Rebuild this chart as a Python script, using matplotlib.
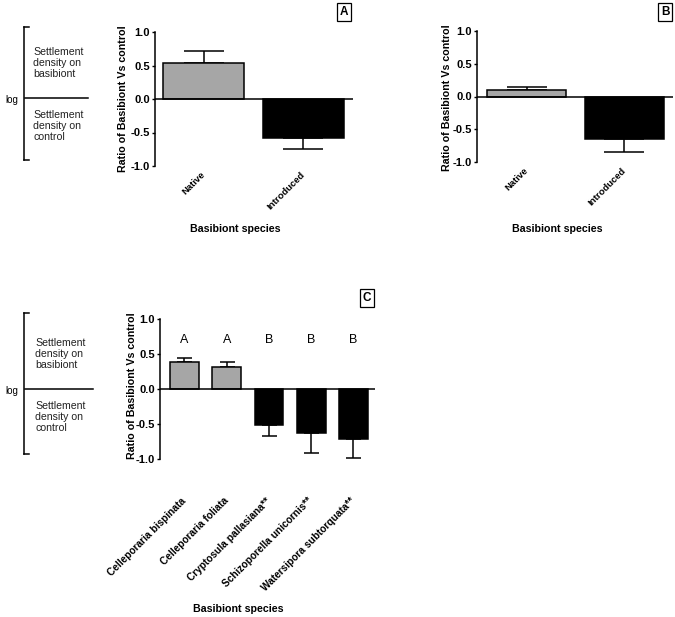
import matplotlib
matplotlib.use('Agg')
import matplotlib.pyplot as plt
from matplotlib.lines import Line2D

plt.rcParams['font.family'] = ['Liberation Sans', 'DejaVu Sans']

# Panel A / B: native vs introduced
groups = ['Native', 'Introduced']
a_means = [0.54, -0.58]
a_err = [0.17, 0.16]
b_means = [0.10, -0.65]
b_err = [0.04, 0.20]

# Panel C: per species
species = ['Celleporaria bispinata', 'Celleporaria foliata', 'Cryptosula pallasiana**',
           'Schizoporella unicornis**', 'Watersipora subtorquata**']
c_means = [0.38, 0.31, -0.52, -0.63, -0.71]
c_err = [0.07, 0.07, 0.15, 0.29, 0.27]
c_letters = ['A', 'A', 'B', 'B', 'B']
c_native = [True, True, False, False, False]

W, H = 675, 617
GREY = '#a6a6a6'


def fx(x):
    return x / W


def fy(y):
    return 1 - y / H


def make_axes(fig, left, right, top, bottom):
    return fig.add_axes([fx(left), fy(bottom), (right - left) / W, (bottom - top) / H])


def draw_bars(ax, labels, means, errs, colors, width, capsize, xlim, label_pad, xfs):
    xs = list(range(len(labels)))
    for x, m, e, c in zip(xs, means, errs, colors):
        yerr = [[0], [e]] if m > 0 else [[e], [0]]
        ax.errorbar([x], [m], yerr=yerr, fmt='none', ecolor='black',
                    elinewidth=1.1, capsize=capsize, capthick=1.1, zorder=1)
        ax.bar(x, m, width=width, color=c, edgecolor='black', linewidth=1.1, zorder=2)
    ax.axhline(0, color='black', lw=1.1, zorder=3)
    ax.set_xlim(*xlim)
    ax.set_ylim(-1.0, 1.0)
    ax.set_yticks([-1.0, -0.5, 0.0, 0.5, 1.0])
    ax.set_yticklabels(['-1.0', '-0.5', '0.0', '0.5', '1.0'], fontsize=8, fontweight='bold')
    ax.tick_params(axis='y', length=2.5, width=1.0, pad=1)
    ax.set_xticks(xs)
    ax.set_xticklabels(labels, rotation=45, ha='right', va='center',
                       rotation_mode='anchor', fontsize=xfs, fontweight='bold')
    ax.tick_params(axis='x', length=0, pad=label_pad)
    for s in ['top', 'right', 'bottom']:
        ax.spines[s].set_visible(False)
    ax.spines['left'].set_linewidth(1.1)
    ax.patch.set_alpha(0)


def log_key(fig, top, mid, bottom, x_text, line_right):
    fig.text(fx(5), fy(mid + 2), 'log', fontsize=7, ha='left', va='center')
    xb = 24
    fig.add_artist(Line2D([fx(xb), fx(xb)], [fy(top), fy(bottom)], color='black', lw=1.1))
    fig.add_artist(Line2D([fx(xb), fx(xb + 5)], [fy(top), fy(top)], color='black', lw=1.1))
    fig.add_artist(Line2D([fx(xb), fx(xb + 5)], [fy(bottom), fy(bottom)], color='black', lw=1.1))
    fig.add_artist(Line2D([fx(xb + 1), fx(line_right)], [fy(mid), fy(mid)], color='black', lw=1.1))
    fig.text(fx(x_text), fy(mid - 35), 'Settlement\ndensity on\nbasibiont', fontsize=7.6,
             ha='left', va='center', linespacing=1.08, color='#222222')
    fig.text(fx(x_text), fy(mid + 28), 'Settlement\ndensity on\ncontrol', fontsize=7.6,
             ha='left', va='center', linespacing=1.08, color='#222222')


def box_label(fig, x, y, s):
    fig.text(fx(x), fy(y), s, fontsize=8.5, fontweight='bold', ha='center', va='center',
             bbox=dict(boxstyle='square,pad=0.22', fc='white', ec='black', lw=0.9))


def side_texts(fig, ylab_xy, xlab_xy):
    fig.text(fx(ylab_xy[0]), fy(ylab_xy[1]), 'Ratio of Basibiont Vs control', rotation=90,
             fontsize=7.7, fontweight='bold', ha='center', va='center')
    fig.text(fx(xlab_xy[0]), fy(xlab_xy[1]), 'Basibiont species', fontsize=7.7,
             fontweight='bold', ha='center', va='center')


fig = plt.figure(figsize=(W / 100, H / 100), dpi=100)

# Panel A
axA = make_axes(fig, 155, 353, 32, 166)
draw_bars(axA, groups, a_means, a_err, [GREY, 'black'], 0.81, 14.5, (-0.49, 1.5), 5, 6.8)
side_texts(fig, (123, 99), (235, 229))
box_label(fig, 344, 12, 'A')
log_key(fig, 27, 98, 160, 33, 88)

# Panel B
axB = make_axes(fig, 477, 673, 31, 162)
draw_bars(axB, groups, b_means, b_err, [GREY, 'black'], 0.81, 14.5, (-0.51, 1.5), 5, 6.8)
side_texts(fig, (447, 98), (557, 229))
box_label(fig, 665, 12, 'B')

# Panel C
axC = make_axes(fig, 160, 375, 319, 459)
c_colors = [GREY if n else 'black' for n in c_native]
draw_bars(axC, species, c_means, c_err, c_colors, 0.68, 5.4, (-0.58, 4.51), 29, 7.3)
for i, letter in enumerate(c_letters):
    axC.text(i, 0.70, letter, fontsize=9, ha='center', va='center')
side_texts(fig, (132, 386), (238, 609))
box_label(fig, 367, 298, 'C')
log_key(fig, 313, 389, 454, 35, 93)

fig.savefig('out.png', dpi=100)
